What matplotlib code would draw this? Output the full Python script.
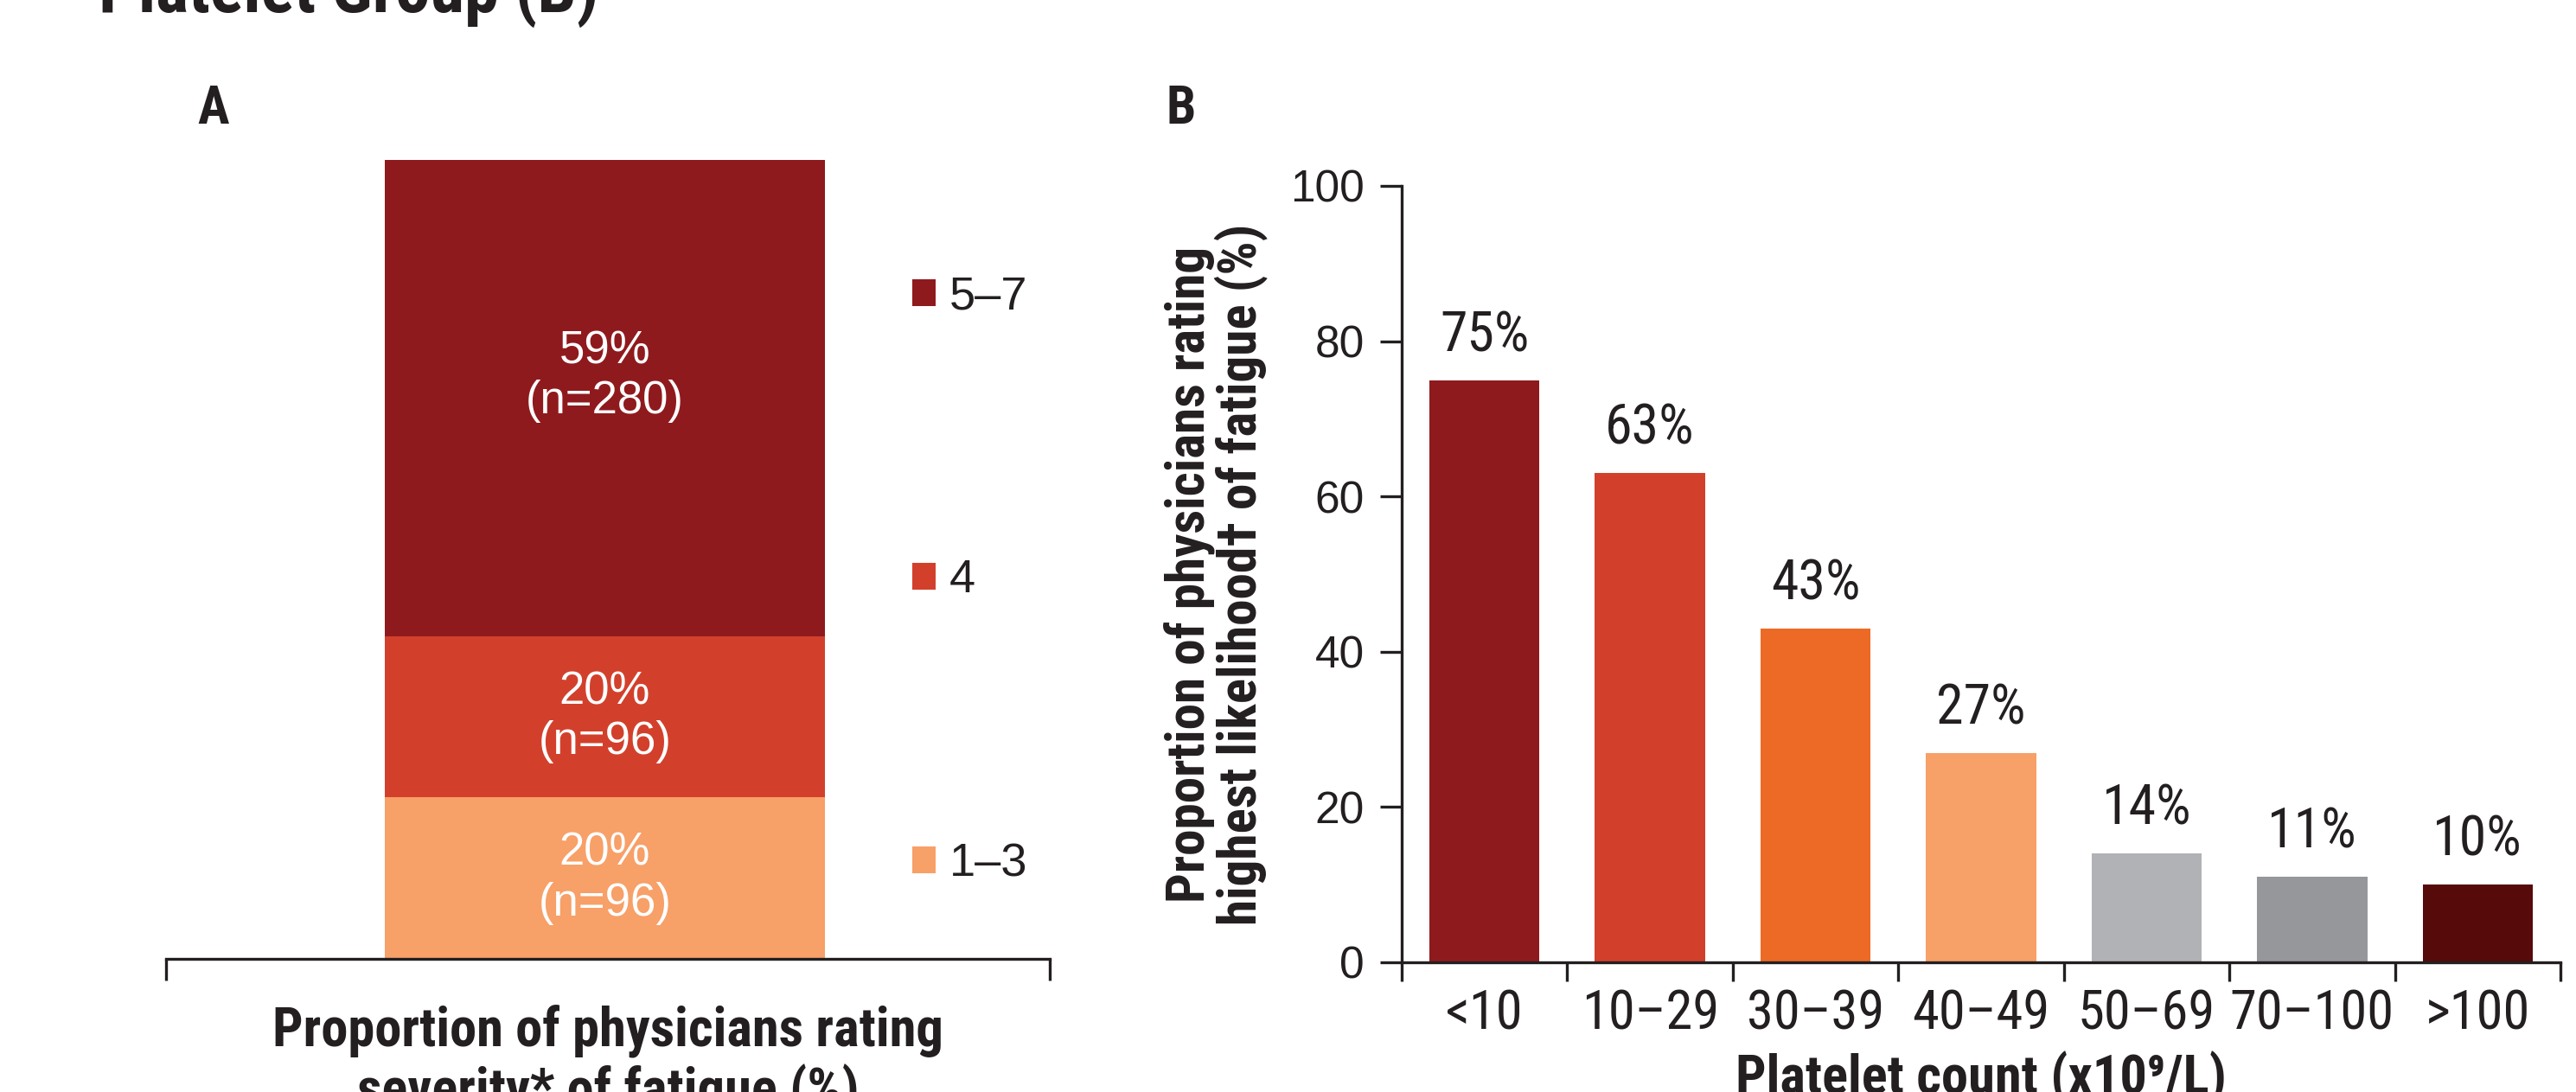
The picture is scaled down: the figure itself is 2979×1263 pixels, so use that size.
import matplotlib
matplotlib.use("Agg")
import matplotlib.pyplot as plt
from matplotlib import font_manager as fm
from matplotlib.patches import Patch

# ---------------- data ----------------
sev_labels = ["1–3", "4", "5–7"]
sev_pct = [20, 20, 59]
sev_n = [96, 96, 280]
sev_colors = ["#F7A068", "#D2402C", "#8F1A1D"]

plt_categories = ["<10", "10–29", "30–39", "40–49", "50–69", "70–100", ">100"]
plt_values = [75, 63, 43, 27, 14, 11, 10]
plt_colors = ["#8F1A1D", "#D2402C", "#EC6A25", "#F7A068", "#B1B2B5", "#96979A", "#560A0A"]

yticks_b = [0, 20, 40, 60, 80, 100]

# ---------------- fonts ----------------
names = {f.name for f in fm.fontManager.ttflist}
NARROW = next((n for n in ["Liberation Sans Narrow", "Roboto Condensed", "Open Sans Condensed"]
               if n in names), "Liberation Sans")
REG = "Liberation Sans" if "Liberation Sans" in names else "DejaVu Sans"
NARROW_F = [NARROW, "DejaVu Sans"]
REG_F = [REG, "DejaVu Sans"]
TXT = "#231F20"

plt.rcParams["font.family"] = REG_F

fig = plt.figure(figsize=(29.79, 12.63), dpi=100)
H = 1263.0
W = 2979.0

# title (cut at top in reference)
fig.text(114 / W, 1 - 14 / H, "Platelet Group (B)", family=NARROW_F, fontweight="bold",
         fontsize=58, color=TXT, va="baseline", ha="left")
fig.text(228 / W, 1 - 143 / H, "A", family=NARROW_F, fontweight="bold", fontsize=44,
         color=TXT, va="baseline", ha="left")
fig.text(1349 / W, 1 - 143 / H, "B", family=NARROW_F, fontweight="bold", fontsize=44,
         color=TXT, va="baseline", ha="left")

# ---------------- Panel A ----------------
axA = fig.add_axes([192 / W, 1 - 1109 / H, 1022 / W, 933 / H])
bottom = 0
bar_x = 0.4966
for i, (lab, p, n, c) in enumerate(zip(sev_labels, sev_pct, sev_n, sev_colors)):
    axA.bar(bar_x, p, width=0.498, bottom=bottom, color=c, linewidth=0)
    dy = 18 if p > 40 else 0
    axA.annotate(f"{p}%\n(n={n})", (bar_x, bottom + p / 2), xytext=(0, dy),
                 textcoords="offset points", ha="center", va="center",
                 color="white", fontsize=38, family=REG_F, linespacing=1.2)
    bottom += p
axA.set_xlim(0, 1)
axA.set_ylim(0, 100)
for s in ["top", "right", "left"]:
    axA.spines[s].set_visible(False)
axA.spines["bottom"].set_linewidth(2.4)
axA.spines["bottom"].set_color(TXT)
axA.set_yticks([])
axA.set_xticks([0, 1])
axA.set_xticklabels([])
axA.tick_params(axis="x", direction="out", length=18, width=2.4, color=TXT)
axA.set_xlabel("Proportion of physicians rating\nseverity* of fatigue (%)",
               family=NARROW_F, fontweight="bold", fontsize=45, color=TXT,
               labelpad=16, linespacing=1.15)

handles = [Patch(facecolor=c, edgecolor="none") for c in sev_colors[::-1]]
leg = axA.legend(handles, sev_labels[::-1], loc="center left",
                 bbox_to_anchor=(0.844, 0.469), frameon=False, fontsize=39,
                 handlelength=0.5, handleheight=0.5, handletextpad=0.3,
                 labelspacing=5.13, borderpad=0, borderaxespad=0)
for t in leg.get_texts():
    t.set_color(TXT)
    t.set_family(REG_F)

# ---------------- Panel B ----------------
axB = fig.add_axes([1621 / W, 1 - 1113 / H, (2961 - 1621) / W, (1113 - 215) / H])
xs = list(range(len(plt_categories)))
bars = axB.bar(xs, plt_values, width=0.665, color=plt_colors, linewidth=0)
for x, v in zip(xs, plt_values):
    axB.annotate(f"{v}%", (x, v), xytext=(0, 24), textcoords="offset points",
                 ha="center", va="baseline", fontsize=46, family=NARROW_F, color=TXT)
axB.set_xlim(-0.5, len(plt_categories) - 0.5)
axB.set_ylim(0, 100)
axB.set_yticks(yticks_b)
axB.set_yticklabels([str(v) for v in yticks_b], fontsize=37, family=REG_F, color=TXT)
axB.tick_params(axis="y", direction="out", length=18, width=2.4, color=TXT, pad=13)
axB.set_xticks([i - 0.5 for i in range(len(plt_categories) + 1)])
axB.set_xticklabels([])
axB.tick_params(axis="x", which="major", direction="out", length=16, width=2.4, color=TXT)
axB.set_xticks(xs, minor=True)
axB.set_xticklabels(plt_categories, minor=True, fontsize=45, family=NARROW_F, color=TXT)
axB.tick_params(axis="x", which="minor", length=0, pad=22)
for s in ["top", "right"]:
    axB.spines[s].set_visible(False)
for s in ["left", "bottom"]:
    axB.spines[s].set_linewidth(2.4)
    axB.spines[s].set_color(TXT)
axB.spines["left"].set_bounds(0, 100)
axB.set_ylabel("Proportion of physicians rating\nhighest likelihood† of fatigue (%)",
               family=NARROW_F, fontweight="bold", fontsize=44, color=TXT,
               labelpad=18, linespacing=1.0)
axB.set_xlabel("Platelet count (x10⁹/L)", family=NARROW_F, fontweight="bold",
               fontsize=45, color=TXT, labelpad=8)

fig.savefig("out.png", dpi=100, facecolor="white")
